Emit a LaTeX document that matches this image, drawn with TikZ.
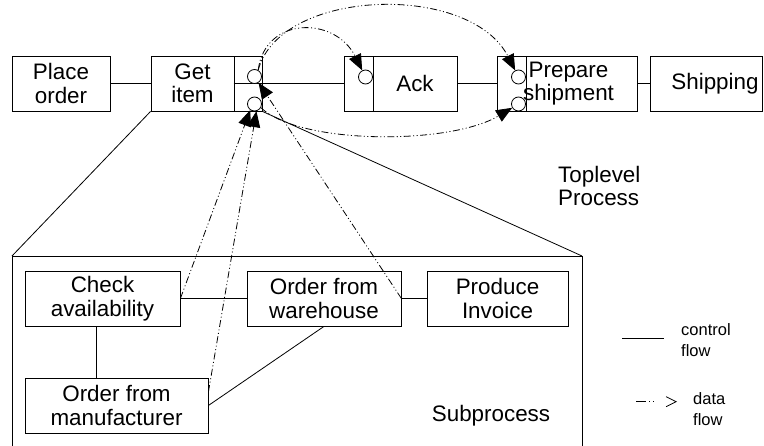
\documentclass[tikz,border=0pt]{standalone}
\usepackage{fontspec}
\setmainfont{Liberation Sans}
\usetikzlibrary{arrows.meta}
\begin{document}
\begin{tikzpicture}[x=1pt,y=-1pt,
  box/.style={draw, line width=0.8pt, minimum height=55pt, inner sep=0pt, align=center, font=\fontsize{22.4}{23.5}\selectfont},
  txt/.style={inner sep=0pt, align=center, font=\fontsize{22.4}{23.5}\selectfont},
  circ/.style={draw, fill=white, circle, minimum size=14pt, inner sep=0pt, line width=0.8pt},
  ctrl/.style={line width=0.8pt},
  dflow/.style={line width=0.8pt, dash pattern=on 7pt off 2.5pt on 1pt off 2.5pt on 1pt off 2.5pt, -{Triangle[length=16pt,width=13pt]}},
  lbl/.style={inner sep=0pt, align=left, font=\fontsize{22.4}{23}\selectfont},
  leg/.style={inner sep=0pt, align=left, font=\fontsize{16.5}{21}\selectfont}
]
\useasboundingbox (0,0) rectangle (764,446);
% top level boxes
\node[box, minimum width=98pt] (place) at (61,83.5) {Place\\order};
\node[box, minimum width=83pt] (get) at (192.5,83.5) {Get\\item};
\node[box, minimum width=28pt] (getp) at (248,83.5) {};
\draw[ctrl] (getp.west) -- (getp.east);
\node[box, minimum width=29pt] (acks) at (358.5,83.5) {};
\node[box, minimum width=84pt] (ack) at (415,83.5) {Ack};
\node[box, minimum width=111pt] (prep) at (581.5,83.5) {};
\node[txt] (preptext) at (568.5,83.5) {Prepare\\shipment};
\node[box, minimum width=29pt] (preps) at (511.5,83.5) {};
\node[box, minimum width=112pt] (ship) at (706,83.5) {};
\node[txt] (shiptext) at (715,83.5) {Shipping};
% ports
\node[circ] (c1) at (254.5,76.5) {};
\node[circ] (c2) at (254.5,104) {};
\node[circ] (c3) at (365.5,77) {};
\node[circ] (c4) at (518.5,77) {};
\node[circ] (c5) at (518.5,104) {};
% control flow top
\draw[ctrl] (place.east) -- (get.west);
\draw[ctrl] (getp.east) -- (acks.west);
\draw[ctrl] (ack.east) -- (preps.west);
\draw[ctrl] (prep.east) -- (ship.west);
% subprocess frame
\coordinate (ftl) at (12,256);
\coordinate (ftr) at (582,256);
\coordinate (fbl) at (12,446);
\coordinate (fbr) at (582,446);
\draw[ctrl] (fbl) -- (ftl) -- (ftr) -- (fbr);
\draw[ctrl] (get.south west) -- (ftl);
\draw[ctrl] (getp.south east) -- (ftr);
% subprocess boxes
\node[box, minimum width=155pt] (check) at (102.5,298.5) {Check\\availability};
\node[box, minimum width=154pt] (wh) at (324,298.5) {Order from\\warehouse};
\node[box, minimum width=141pt] (inv) at (497.5,298.5) {Produce\\Invoice};
\node[box, minimum width=183pt] (manu) at (116.5,405.5) {Order from\\manufacturer};
\draw[ctrl] (check.east) -- (wh.west);
\draw[ctrl] (wh.east) -- (inv.west);
\draw[ctrl] ([xshift=-6.5pt]check.south) -- ([xshift=-20.5pt]manu.north);
\draw[ctrl] (wh.south) -- (manu.east);
% labels
\node[lbl, anchor=west] (toplbl) at (558,186.2) {Toplevel\\Process};
\node[txt, anchor=base] (sublbl) at (491,421.7) {Subprocess};
% data flow
\draw[dflow] (c1.60) .. controls (265,16) and (335,16) .. (c3);
\draw[dflow] (c1.60) .. controls (280,-12) and (470,-18) .. (c4);
\draw[dflow] (c2.330) .. controls (300,145) and (450,145) .. (c5);
\draw[dflow] (wh.east) -- (c1);
\draw[dflow] (check.east) -- (c2.235);
\draw[dflow] ([yshift=13.5pt]manu.east) -- (c2.285);
% legend
\coordinate (lc1) at (622,338);
\coordinate (lc2) at (664,338);
\draw[ctrl] (lc1) -- (lc2);
\node[leg, anchor=west] (lct) at (681,339.9) {control\\flow};
\coordinate (ld1) at (636,401.7);
\coordinate (ld2) at (677,401.7);
\draw[line width=1.4pt, dash pattern=on 10pt off 3pt on 1pt off 3pt on 1pt off 50pt, -{Straight Barb[length=10pt,width=10pt,line width=0.8pt]}] (ld1) -- (ld2);
\node[leg, anchor=west] (ldt) at (693,409) {data\\flow};
\end{tikzpicture}
\end{document}
